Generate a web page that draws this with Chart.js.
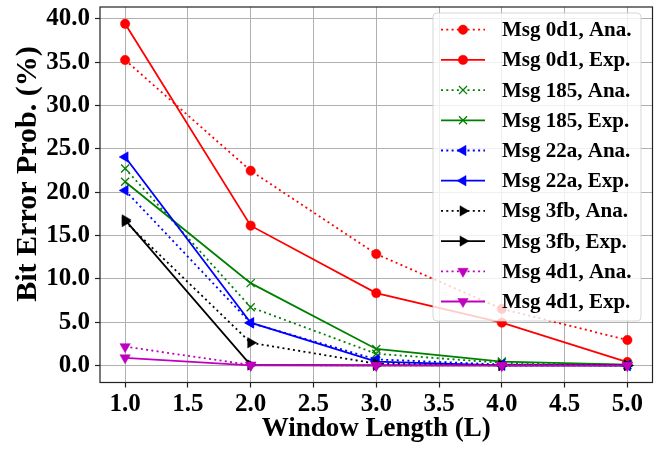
<!DOCTYPE html>
<html>
<head>
<meta charset="utf-8">
<script src="https://cdn.jsdelivr.net/npm/chart.js@4/dist/chart.umd.min.js"></script>
<style>
  html, body { margin: 0; padding: 0; background: #ffffff; }
  #wrap { width: 672px; height: 451px; }
</style>
</head>
<body>
<div id="wrap"><canvas id="chart" width="672" height="451"></canvas></div>
<script>
// Values
const windowLen = [1, 2, 3, 4, 5];
const xTicks = [1.0, 1.5, 2.0, 2.5, 3.0, 3.5, 4.0, 4.5, 5.0];
const yTicks = [0, 5, 10, 15, 20, 25, 30, 35, 40];

const msg0d1Ana = [35.25, 22.47, 12.86, 6.53, 2.93];
const msg0d1Exp = [39.43, 16.13, 8.35, 4.94, 0.39];
const msg185Ana = [22.73, 6.72, 1.35, 0.3, 0.05];
const msg185Exp = [21.2, 9.5, 1.9, 0.45, 0.1];
const msg22aAna = [20.2, 4.9, 0.7, 0.1, 0.0];
const msg22aExp = [24.06, 4.93, 0.45, 0.0, 0.0];
const msg3fbAna = [16.6, 2.62, 0.2, 0.0, 0.0];
const msg3fbExp = [16.8, 0.05, 0.0, 0.0, 0.0];
const msg4d1Ana = [2.17, 0.05, 0.0, 0.0, 0.0];
const msg4d1Exp = [0.88, 0.0, 0.0, 0.0, 0.0];

const yTitle = 'Bit Error Prob. (%)';
const xTitle = 'Window Length (L)';

const serif = "'Liberation Serif', 'Times New Roman', serif";
const axisColor = '#222222';

function makeSet(label, values, color, shape, rot, dotted) {
    const isCross = shape === 'crossRot';
    let radius = 6;
    if (shape === 'circle') radius = 4.7;
    if (isCross) radius = 5.7;
    return {
        label: label,
        data: windowLen.map((x, i) => ({ x: x, y: values[i] })),
        borderColor: color,
        backgroundColor: color,
        borderWidth: 1.8,
        borderDash: dotted ? [2, 3.3] : [],
        pointStyle: shape,
        pointRotation: rot,
        pointRadius: radius,
        pointHoverRadius: radius,
        pointBorderWidth: isCross ? 1.3 : 0.5,
        pointBackgroundColor: color,
        pointBorderColor: color,
        tension: 0,
        fill: false
    };
}

const datasets = [
    makeSet('Msg 0d1, Ana.', msg0d1Ana, '#ff0000', 'circle', 0, true),
    makeSet('Msg 0d1, Exp.', msg0d1Exp, '#ff0000', 'circle', 0, false),
    makeSet('Msg 185, Ana.', msg185Ana, '#008000', 'crossRot', 0, true),
    makeSet('Msg 185, Exp.', msg185Exp, '#008000', 'crossRot', 0, false),
    makeSet('Msg 22a, Ana.', msg22aAna, '#0000ff', 'triangle', -90, true),
    makeSet('Msg 22a, Exp.', msg22aExp, '#0000ff', 'triangle', -90, false),
    makeSet('Msg 3fb, Ana.', msg3fbAna, '#000000', 'triangle', 90, true),
    makeSet('Msg 3fb, Exp.', msg3fbExp, '#000000', 'triangle', 90, false),
    makeSet('Msg 4d1, Ana.', msg4d1Ana, '#bf00bf', 'triangle', 180, true),
    makeSet('Msg 4d1, Exp.', msg4d1Exp, '#bf00bf', 'triangle', 180, false)
];
// later series on top, like matplotlib
datasets.forEach((ds, i) => { ds.order = -i; });

// no extra room for the end tick labels, the frame is fixed
function noPad(s) {
    s.paddingTop = 0;
    s.paddingBottom = 0;
    s.paddingLeft = 0;
    s.paddingRight = 0;
}

// spines, y label and a matplotlib-style legend box
const framePlugin = {
    id: 'frame',
    afterDraw(chart) {
        const ctx = chart.ctx;
        const a = chart.chartArea;
        ctx.save();
        ctx.strokeStyle = axisColor;
        ctx.lineWidth = 1.2;
        ctx.strokeRect(a.left, a.top, a.right - a.left, a.bottom - a.top);

        // y axis label, sits a bit above the axes centre in the original
        ctx.save();
        ctx.translate(36, 174);
        ctx.rotate(-Math.PI / 2);
        ctx.font = 'bold 30px ' + serif;
        ctx.fillStyle = '#000000';
        ctx.textAlign = 'center';
        ctx.textBaseline = 'alphabetic';
        ctx.fillText(yTitle, 0, 0);
        ctx.restore();

        // legend
        const bx = 433, by = 13, bw = 208, bh = 308;
        ctx.fillStyle = 'rgba(255,255,255,0.8)';
        ctx.strokeStyle = 'rgba(204,204,204,0.8)';
        ctx.lineWidth = 1;
        ctx.beginPath();
        ctx.roundRect(bx, by, bw, bh, 4);
        ctx.fill();
        ctx.stroke();

        ctx.font = 'bold 21px ' + serif;
        ctx.textBaseline = 'middle';
        ctx.textAlign = 'left';
        chart.data.datasets.forEach((ds, i) => {
            const y = 29.7 + i * 30.2;
            ctx.save();
            ctx.strokeStyle = ds.borderColor;
            ctx.lineWidth = ds.borderWidth;
            ctx.setLineDash(ds.borderDash);
            ctx.beginPath();
            ctx.moveTo(441, y);
            ctx.lineTo(485, y);
            ctx.stroke();
            ctx.setLineDash([]);
            ctx.fillStyle = ds.pointBackgroundColor;
            ctx.strokeStyle = ds.pointBorderColor;
            ctx.lineWidth = ds.pointBorderWidth;
            Chart.helpers.drawPoint(ctx, {
                pointStyle: ds.pointStyle,
                rotation: ds.pointRotation,
                radius: ds.pointRadius,
                borderWidth: ds.pointBorderWidth
            }, 463, y);
            ctx.restore();
            ctx.fillStyle = '#000000';
            ctx.fillText(ds.label, 502, y + 1);
        });
        ctx.restore();
    }
};

const ctx = document.getElementById('chart').getContext('2d');
new Chart(ctx, {
    type: 'line',
    data: { datasets: datasets },
    options: {
        responsive: false,
        animation: false,
        devicePixelRatio: 1,
        layout: { padding: { top: 2, right: 19.5, left: 0, bottom: 0 } },
        plugins: {
            legend: { display: false },
            tooltip: { enabled: false }
        },
        scales: {
            x: {
                type: 'linear',
                min: 0.8,
                max: 5.2,
                afterBuildTicks: s => { s.ticks = xTicks.map(v => ({ value: v })); },
                afterFit: s => { s.height = 68.5; noPad(s); },
                ticks: {
                    color: '#000000',
                    padding: 2,
                    font: { family: serif, size: 25, weight: 'bold' },
                    callback: v => v.toFixed(1)
                },
                grid: { color: '#b0b0b0', lineWidth: 1, tickLength: 5, tickColor: axisColor, tickWidth: 1.2 },
                border: { display: false },
                title: {
                    display: true,
                    text: xTitle,
                    color: '#000000',
                    padding: { top: 0, bottom: 6 },
                    font: { family: serif, size: 27, weight: 'bold' }
                }
            },
            y: {
                type: 'linear',
                min: -1.97,
                max: 41.37,
                afterBuildTicks: s => { s.ticks = yTicks.map(v => ({ value: v })); },
                afterFit: s => { s.width = 100; noPad(s); },
                ticks: {
                    color: '#000000',
                    padding: 5,
                    font: { family: serif, size: 25, weight: 'bold' },
                    callback: v => v.toFixed(1)
                },
                grid: { color: '#b0b0b0', lineWidth: 1, tickLength: 5, tickColor: axisColor, tickWidth: 1.2 },
                border: { display: false },
                title: { display: false }
            }
        }
    },
    plugins: [framePlugin]
});
</script>
</body>
</html>
